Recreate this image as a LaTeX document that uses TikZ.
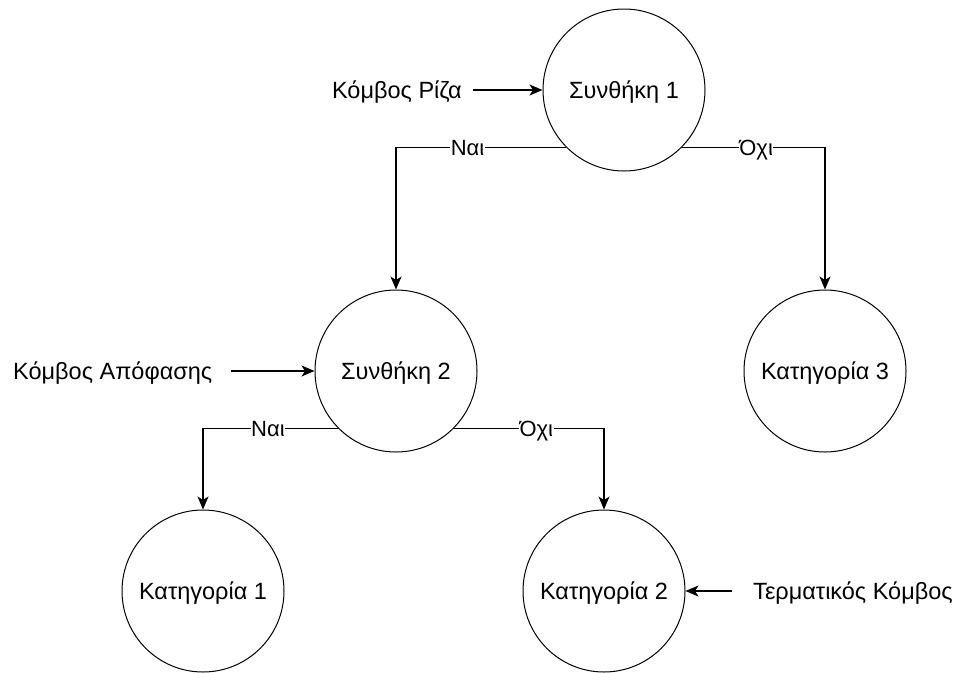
\documentclass[tikz,border=0pt]{standalone}
\usepackage{fontspec}
\setmainfont{Liberation Sans}
\usetikzlibrary{arrows.meta}
\begin{document}
\begin{tikzpicture}[x=1pt,y=-1pt,
  state/.style={draw, circle, minimum size=162pt, inner sep=0pt, line width=1pt,
    font=\fontsize{23.5}{28}\selectfont, text height=16.8pt, text depth=0pt},
  note/.style={inner sep=0pt, font=\fontsize{23.5}{28}\selectfont,
    text height=16.8pt, text depth=0pt},
  link/.style={line width=1.1pt, -{Stealth[length=13pt,width=11pt,inset=3.5pt]}},
  branch/.style={fill=white, inner sep=0.5pt, font=\fontsize{22}{26}\selectfont,
    text height=15.7pt, text depth=0pt}]
\useasboundingbox (0,0) rectangle (958,672);

% decision and leaf nodes
\node[state] (c1) at (624,90)  {Συνθήκη 1};
\node[state] (c2) at (396,371) {Συνθήκη 2};
\node[state] (c3) at (825,371) {Κατηγορία 3};
\node[state] (k1) at (203,591) {Κατηγορία 1};
\node[state] (k2) at (604,591) {Κατηγορία 2};

% annotations
\node[note, anchor=east] (rootlbl) at (462,90)  {Κόμβος Ρίζα};
\node[note, anchor=west] (declbl)  at (13,371)  {Κόμβος Απόφασης};
\node[note, anchor=west] (termlbl) at (753,591) {Τερματικός Κόμβος};

\draw[link] ([xshift=11pt]rootlbl.east) -- (c1.west);
\draw[link] ([xshift=18pt]declbl.east) -- (c2.west);
\draw[link] ([xshift=-21pt]termlbl.west) -- (k2.east);

% branches
\draw[link] (c1.south west) -| node[branch, pos=0.29] {Ναι} (c2.north);
\draw[link] (c1.south east) -| node[branch, pos=0.26] {Όχι} (c3.north);
\draw[link] (c2.south west) -| node[branch, pos=0.26] {Ναι} (k1.north);
\draw[link] (c2.south east) -| node[branch, pos=0.275] {Όχι} (k2.north);
\end{tikzpicture}
\end{document}
